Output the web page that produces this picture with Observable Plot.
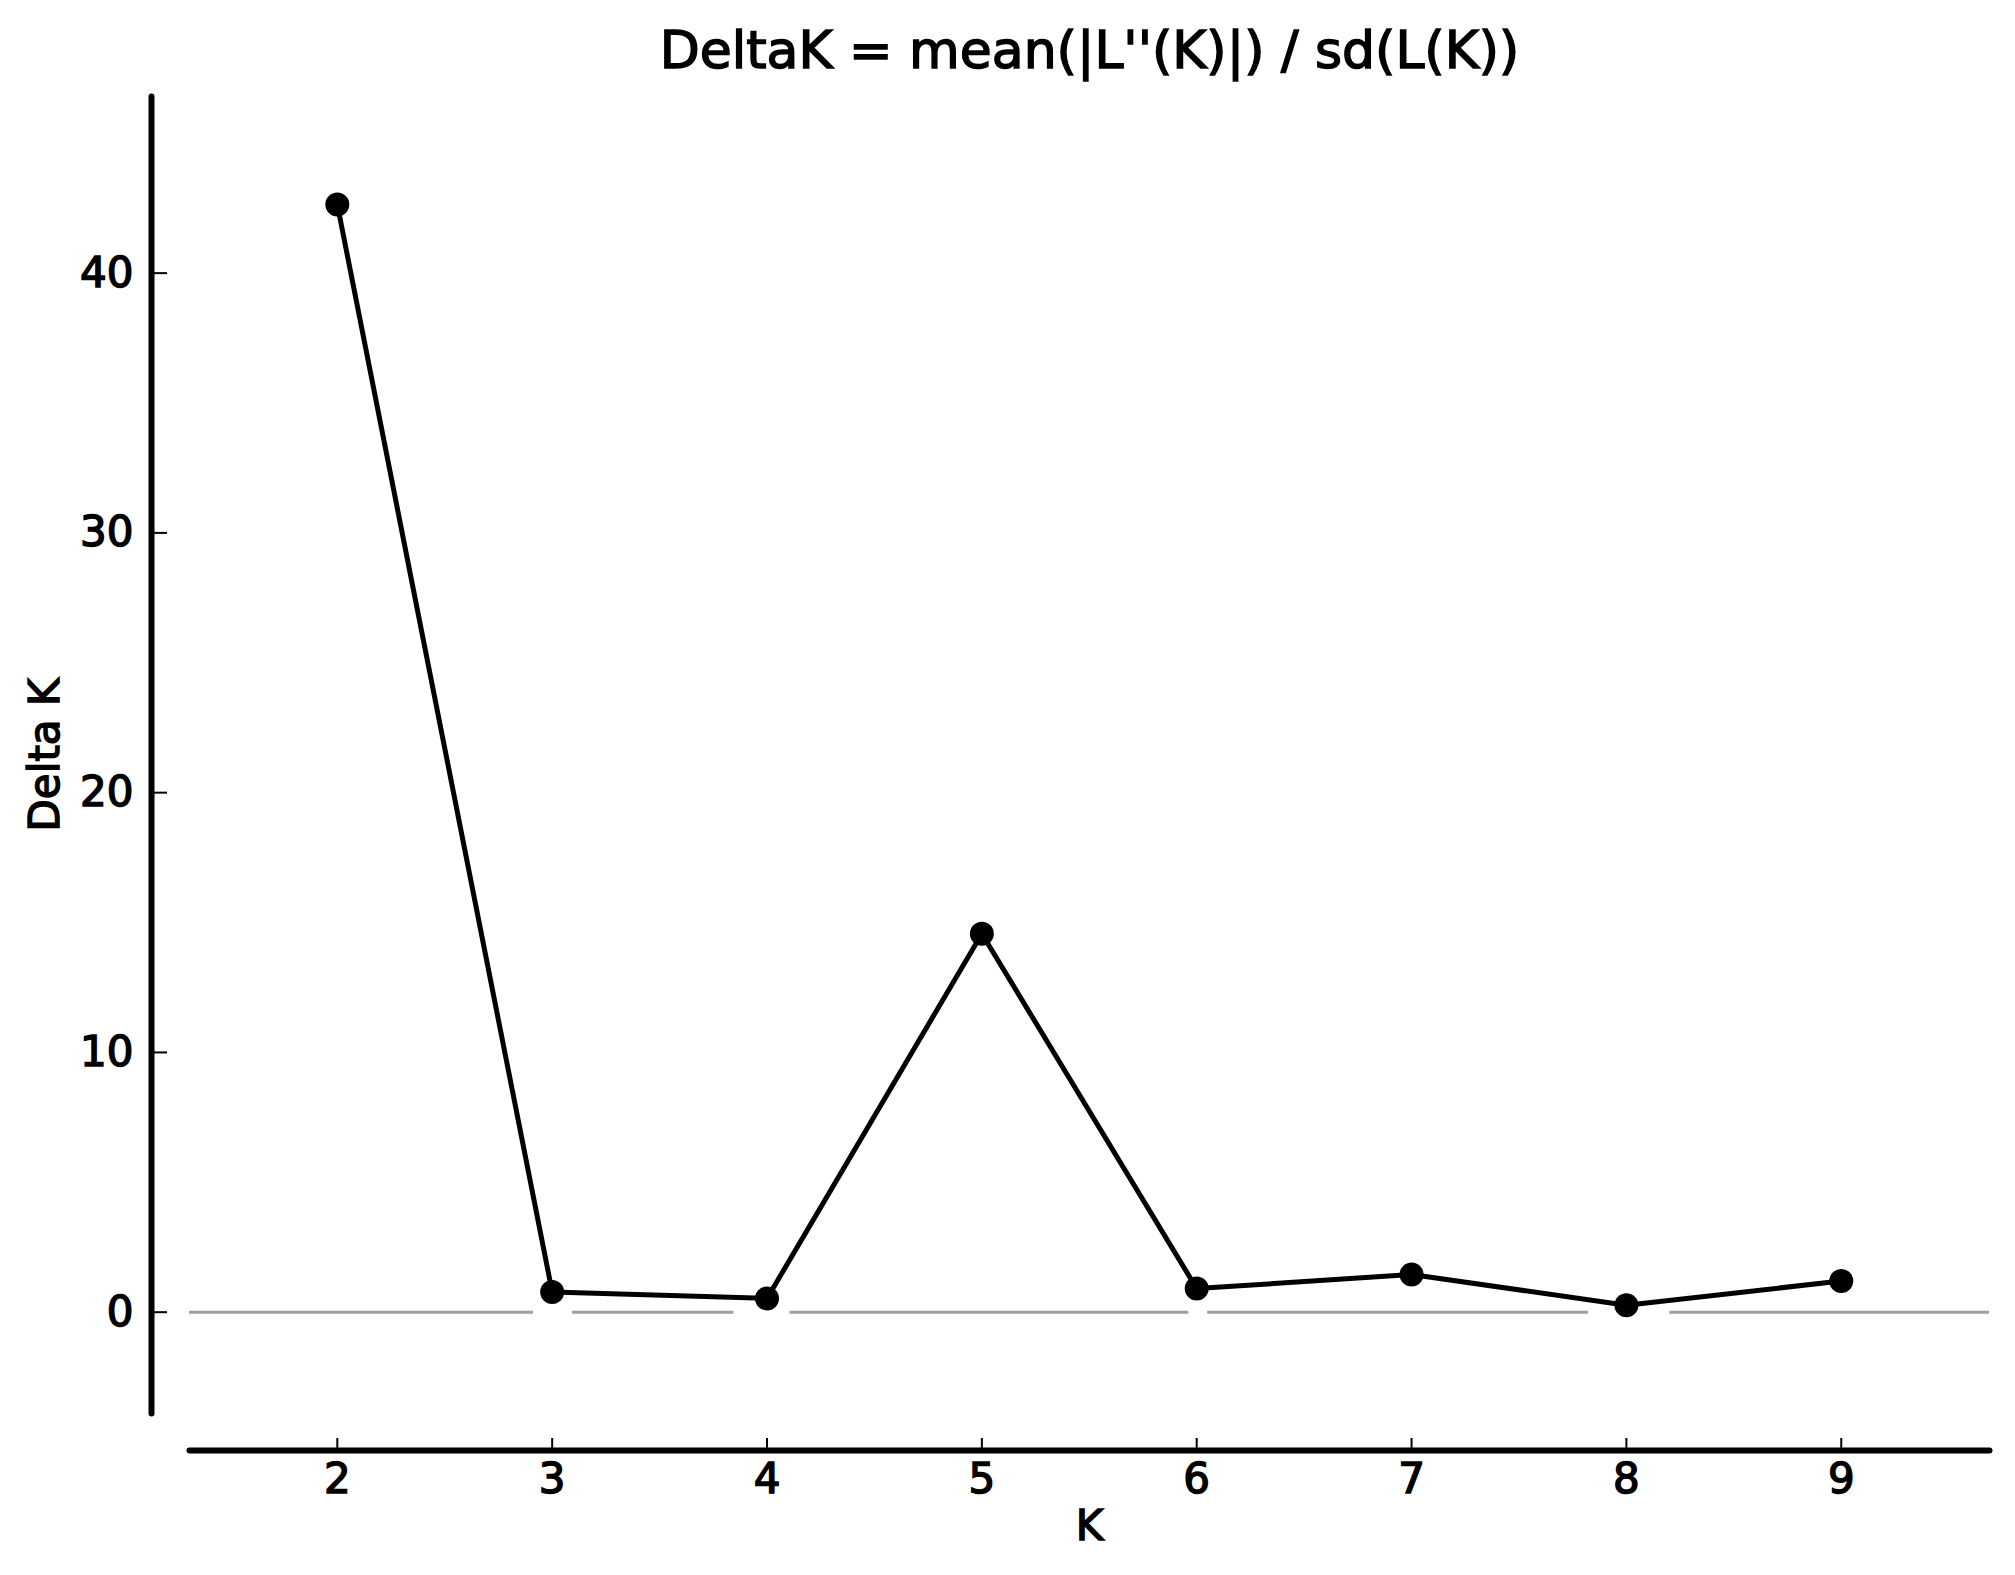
<!DOCTYPE html>
<html><head><meta charset="utf-8">
<script src="https://cdn.jsdelivr.net/npm/d3@7"></script>
<script src="https://cdn.jsdelivr.net/npm/@observablehq/plot@0.6"></script>
<style>
html,body{margin:0;padding:0;background:#fff}
svg{display:block}
svg text{fill:#000;stroke:#000;stroke-width:1.5px}
</style>
</head><body><div id="chart"></div>
<script>
// Data
const kValues = [2, 3, 4, 5, 6, 7, 8, 9];
const deltaK = [42.64, 0.78, 0.53, 14.57, 0.91, 1.45, 0.27, 1.20];
const yTicks = [0, 10, 20, 30, 40];
const xTicks = [2, 3, 4, 5, 6, 7, 8, 9];
const xDomain = [1.312, 9.69];
const yDomain = [-3.9, 46.8];
// grey zero line pieces (in K units) – the reference shows gaps around the markers
const zeroStart = [1.312, 3.095, 4.107, 6.051, 8.202];
const zeroEnd = [2.913, 3.846, 5.963, 7.823, 9.69];
const titleText = "DeltaK = mean(|L''(K)|) / sd(L(K))";
const xLabel = "K";
const yLabel = "Delta K";

const data = kValues.map((k, i) => ({k, dk: deltaK[i]}));
const zeroSegs = zeroStart.map((s, i) => ({x1: s, x2: zeroEnd[i]}));
const font = "DejaVu Sans";
const textStyle = {fill: "#000"};

const chart = Plot.plot({
  width: 2015, height: 1575,
  marginLeft: 189, marginRight: 26, marginTop: 96, marginBottom: 162,
  style: {fontFamily: font, fontSize: "42px", color: "#000", background: "#fff"},
  x: {domain: xDomain},
  y: {domain: yDomain},
  marks: [
    Plot.ruleY(zeroSegs, {y: () => 0, x1: "x1", x2: "x2", stroke: "#9e9e9e", strokeWidth: 3}),
    Plot.frame({anchor: "left", dx: -38, stroke: "#000", strokeWidth: 6, strokeLinecap: "round"}),
    Plot.frame({anchor: "bottom", dy: 37, stroke: "#000", strokeWidth: 6, strokeLinecap: "round"}),
    Plot.axisY(yTicks, {anchor: "left", dx: -38, tickSize: 0, tickPadding: 18, label: null, fontSize: 42, tickFormat: "d", ...textStyle}),
    Plot.axisY(yTicks, {anchor: "right", frameAnchor: "left", dx: -38, tickSize: 15, text: null, label: null, stroke: "#000", strokeWidth: 2}),
    Plot.axisX(xTicks, {anchor: "bottom", dy: 37, tickSize: 0, tickPadding: 13, label: null, fontSize: 42, tickFormat: "d", ...textStyle}),
    Plot.axisX(xTicks, {anchor: "top", frameAnchor: "bottom", dy: 37, tickSize: 13, text: null, label: null, stroke: "#000", strokeWidth: 2}),
    Plot.line(data, {x: "k", y: "dk", stroke: "#000", strokeWidth: 5}),
    Plot.dot(data, {x: "k", y: "dk", r: 12, fill: "#000", stroke: "none"}),
    Plot.text([yLabel], {frameAnchor: "left", rotate: -90, dx: -144, textAnchor: "middle", lineAnchor: "middle", fontSize: 42, ...textStyle}),
    Plot.text([xLabel], {frameAnchor: "bottom", dy: 113, textAnchor: "middle", lineAnchor: "middle", fontSize: 42, ...textStyle}),
    Plot.text([titleText], {frameAnchor: "top", dy: -45, textAnchor: "middle", lineAnchor: "middle", fontSize: 52, ...textStyle})
  ]
});
document.getElementById("chart").appendChild(chart);
</script>
</body></html>
